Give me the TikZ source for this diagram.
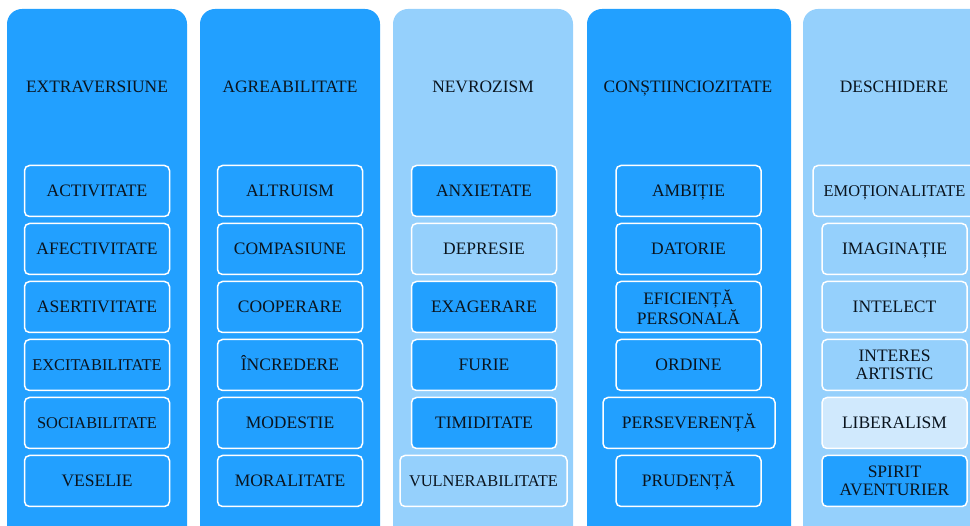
\documentclass[tikz,border=0pt]{standalone}
\usepackage{fontspec}
\setmainfont{Liberation Serif}

\definecolor{darkblue}{HTML}{22A0FF}
\definecolor{lightblue}{HTML}{95D0FC}
\definecolor{paleblue}{HTML}{D0E9FD}
\definecolor{ink}{HTML}{0A141E}

\begin{document}
\begin{tikzpicture}[x=1pt,y=-1pt,
  col/.style={fill=#1, rounded corners=15pt},
  title/.style={text=ink, font=\fontsize{17.4}{18}\selectfont,
    text height=11.5pt, text depth=0pt},
  trait/.style={draw=white, line width=1.5pt, rounded corners=5pt, fill=#1,
    minimum width=145pt, minimum height=51pt, inner sep=0pt, align=center,
    text=ink, font=\fontsize{17.5}{18.3}\selectfont,
    text height=11.6pt, text depth=0pt},
  twoline/.style={text height=, text depth=},
  small/.style={font=\fontsize{16.4}{18}\selectfont, text height=10.9pt}]

\useasboundingbox (0,0) rectangle (970,526);
\clip (0,0) rectangle (970,526);

%%%%%% Columns %%%%%%%
\fill[col=darkblue] (7,9) rectangle (187,570);
\fill[col=darkblue] (200,9) rectangle (380,570);
\fill[col=lightblue] (393,9) rectangle (573,570);
\fill[col=darkblue] (587,9) rectangle (791,570);
\fill[col=lightblue] (803,9) rectangle (986,570);

%%%%%% Extraversiune %%%%%%%
\node (extra) at (97,87) [title] {EXTRAVERSIUNE};
\node (activ) at (97,191) [trait=darkblue] {ACTIVITATE};
\node (afect) at (97,249) [trait=darkblue] {AFECTIVITATE};
\node (asert) at (97,307) [trait=darkblue] {ASERTIVITATE};
\node (excit) at (97,365) [trait=darkblue, small] {EXCITABILITATE};
\node (socia) at (97,423) [trait=darkblue, small] {SOCIABILITATE};
\node (vesel) at (97,481) [trait=darkblue] {VESELIE};

%%%%%% Agreabilitate %%%%%%%
\node (agrea) at (290,87) [title] {AGREABILITATE};
\node (altru) at (290,191) [trait=darkblue] {ALTRUISM};
\node (compa) at (290,249) [trait=darkblue] {COMPASIUNE};
\node (coope) at (290,307) [trait=darkblue] {COOPERARE};
\node (incre) at (290,365) [trait=darkblue] {ÎNCREDERE};
\node (modes) at (290,423) [trait=darkblue] {MODESTIE};
\node (moral) at (290,481) [trait=darkblue] {MORALITATE};

%%%%%% Nevrozism %%%%%%%
\node (nevro) at (483,87) [title] {NEVROZISM};
\node (anxie) at (484,191) [trait=darkblue] {ANXIETATE};
\node (depre) at (484,249) [trait=lightblue] {DEPRESIE};
\node (exage) at (484,307) [trait=darkblue] {EXAGERARE};
\node (furie) at (484,365) [trait=darkblue] {FURIE};
\node (timid) at (484,423) [trait=darkblue] {TIMIDITATE};
\node (vulne) at (483.5,481) [trait=lightblue, small, minimum width=167pt] {VULNERABILITATE};

%%%%%% Constiinciozitate %%%%%%%
\node (const) at (688,87) [title] {CONȘTIINCIOZITATE};
\node (ambit) at (688.5,191) [trait=darkblue] {AMBIȚIE};
\node (dator) at (688.5,249) [trait=darkblue] {DATORIE};
\node (efici) at (688.5,307) [trait=darkblue, twoline] {EFICIENȚĂ\\PERSONALĂ};
\node (ordin) at (688.5,365) [trait=darkblue] {ORDINE};
\node (perse) at (689,423) [trait=darkblue, minimum width=172pt] {PERSEVERENȚĂ};
\node (prude) at (688.5,481) [trait=darkblue] {PRUDENȚĂ};

%%%%%% Deschidere %%%%%%%
\node (desch) at (894,87) [title] {DESCHIDERE};
\node (emoti) at (894.5,191) [trait=lightblue, small, minimum width=163pt] {EMOȚIONALITATE};
\node (imagi) at (894.5,249) [trait=lightblue] {IMAGINAȚIE};
\node (intel) at (894.5,307) [trait=lightblue] {INTELECT};
\node (inter) at (894.5,365) [trait=lightblue, twoline] {INTERES\\ARTISTIC};
\node (liber) at (894.5,423) [trait=paleblue] {LIBERALISM};
\node (spiri) at (894.5,481) [trait=darkblue, twoline] {SPIRIT\\AVENTURIER};

\end{tikzpicture}
\end{document}
